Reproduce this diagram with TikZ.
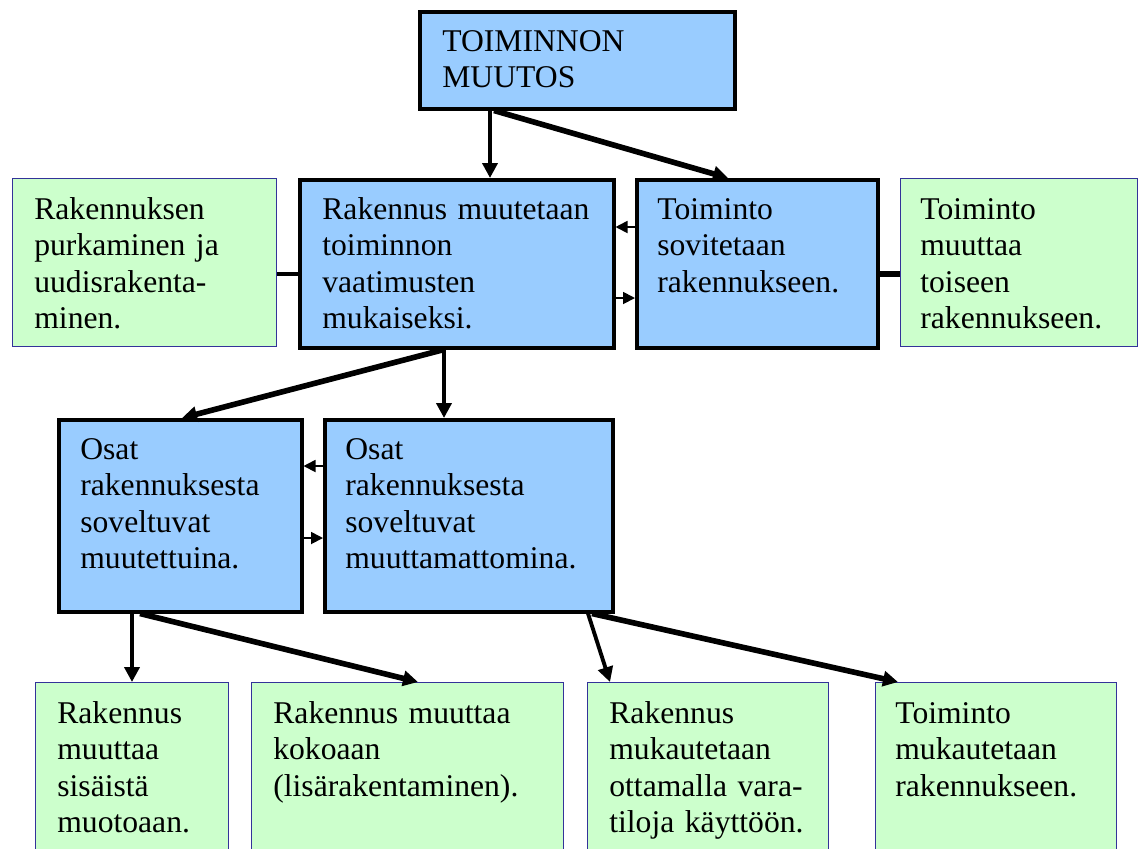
\documentclass[tikz,border=0pt]{standalone}
\usepackage{fontspec}
\setmainfont{Liberation Serif}
\usetikzlibrary{arrows.meta}

\begin{document}
\begin{tikzpicture}[
    >={Triangle[length=3mm,width=3mm]},
    bluebox/.style={draw=black,line width=2pt,fill=boxblue,anchor=north west,inner sep=0pt},
    greenbox/.style={draw=greenline,line width=0.8pt,fill=boxgreen,anchor=north west,inner sep=0pt},
    txt/.style={anchor=base west,inner sep=0pt,align=left,text width=6.2cm,font=\fontsize{18}{20.8}\selectfont},
    arr/.style={->,line width=2.2pt},
    bigarr/.style={->,line width=3.2pt},
    small/.style={-{Triangle[length=2.4mm,width=2.4mm]},line width=1pt},
    link/.style={line width=2.4pt},
]
\definecolor{boxblue}{RGB}{153,204,255}   \definecolor{boxgreen}{RGB}{204,255,204}
\definecolor{greenline}{RGB}{51,51,153}

\useasboundingbox (0,0) rectangle (22.76,-16.96);
\clip (0,0) rectangle (22.76,-16.96);

% text sits 0.44 right of the box edge, first baseline 0.82 below the top
\def\tx{0.44}
\def\ty{-0.82}

% ================= top =================
\node[bluebox,minimum width=6.30cm,minimum height=1.94cm] (muutos) at (8.36,-0.20) {};
\node[txt] (muutos-t) at ([shift={(0.48,\ty)}]muutos.north west) {TOIMINNON\\MUUTOS};

% ================= second row =================
\node[greenbox,minimum width=5.28cm,minimum height=3.36cm] (purku) at (0.24,-3.56) {};
\node[bluebox,minimum width=6.28cm,minimum height=3.36cm] (muutetaan) at (5.96,-3.56) {};
\node[bluebox,minimum width=4.82cm,minimum height=3.36cm] (sovitetaan) at (12.70,-3.56) {};
\node[greenbox,minimum width=4.74cm,minimum height=3.36cm] (toiseen) at (18.00,-3.56) {};
\node[txt] (purku-t) at ([shift={(\tx,\ty)}]purku.north west) {Rakennuksen\\purkaminen ja\\uudisrakenta-\\minen.};
\node[txt] (muutetaan-t) at ([shift={(0.48,\ty)}]muutetaan.north west) {Rakennus muutetaan\\toiminnon\\vaatimusten\\mukaiseksi.};
\node[txt] (sovitetaan-t) at ([shift={(\tx,\ty)}]sovitetaan.north west) {Toiminto\\sovitetaan\\rakennukseen.};
\node[txt] (toiseen-t) at ([shift={(0.40,\ty)}]toiseen.north west) {Toiminto\\muuttaa\\toiseen\\rakennukseen.};

% ================= third row =================
\node[bluebox,minimum width=4.86cm,minimum height=3.84cm] (osatM) at (1.14,-8.36) {};
\node[bluebox,minimum width=5.76cm,minimum height=3.84cm] (osatU) at (6.46,-8.36) {};
\node[txt] (osatM-t) at ([shift={(0.46,\ty)}]osatM.north west) {Osat\\rakennuksesta\\soveltuvat\\muutettuina.};
\node[txt] (osatU-t) at ([shift={(\tx,\ty)}]osatU.north west) {Osat\\rakennuksesta\\soveltuvat\\muuttamattomina.};

% ================= bottom row (runs off the page) =================
\node[greenbox,minimum width=3.86cm,minimum height=3.6cm] (sisainen) at (0.70,-13.64) {};
\node[greenbox,minimum width=6.24cm,minimum height=3.6cm] (koko) at (5.02,-13.64) {};
\node[greenbox,minimum width=4.82cm,minimum height=3.6cm] (varatilat) at (11.74,-13.64) {};
\node[greenbox,minimum width=4.82cm,minimum height=3.6cm] (mukautus) at (17.50,-13.64) {};
\node[txt] (sisainen-t) at ([shift={(\tx,\ty)}]sisainen.north west) {Rakennus\\muuttaa\\sisäistä\\muotoaan.};
\node[txt] (koko-t) at ([shift={(\tx,\ty)}]koko.north west) {Rakennus muuttaa\\kokoaan\\(lisärakentaminen).};
\node[txt] (varatilat-t) at ([shift={(\tx,\ty)}]varatilat.north west) {Rakennus\\mukautetaan\\ottamalla vara-\\tiloja käyttöön.};
\node[txt] (mukautus-t) at ([shift={(0.40,\ty)}]mukautus.north west) {Toiminto\\mukautetaan\\rakennukseen.};

% ================= connectors =================
\draw[arr] ([xshift=1.44cm]muutos.south west) -- ([xshift=1.44cm]muutos.south west |- muutetaan.north);
\draw[bigarr] ([xshift=1.52cm]muutos.south west) -- ([xshift=1.86cm]sovitetaan.north west);
\draw[link] ([yshift=-1.92cm]purku.north east) -- ([yshift=-1.92cm]muutetaan.north west);
\draw[link,line width=3.2pt] ([yshift=-1.92cm]sovitetaan.north east) -- ([yshift=-1.92cm]toiseen.north west);
\draw[small] ([yshift=-0.98cm]sovitetaan.north west) -- ([yshift=-0.98cm]muutetaan.north east);
\draw[small] ([yshift=-2.40cm]muutetaan.north east) -- ([yshift=-2.40cm]sovitetaan.north west);

\draw[arr] ([xshift=2.92cm]muutetaan.south west) -- ([xshift=2.92cm]muutetaan.south west |- osatU.north);
\draw[bigarr] ([xshift=2.92cm]muutetaan.south west) -- ([xshift=2.50cm]osatM.north west);
\draw[small] ([yshift=-0.96cm]osatU.north west) -- ([yshift=-0.96cm]osatM.north east);
\draw[small] ([yshift=-2.40cm]osatM.north east) -- ([yshift=-2.40cm]osatU.north west);

\draw[arr] ([xshift=1.50cm]osatM.south west) -- ([xshift=1.50cm]osatM.south west |- sisainen.north);
\draw[bigarr] ([xshift=1.66cm]osatM.south west) -- ([xshift=3.34cm]koko.north west);
\draw[arr] ([xshift=5.30cm]osatU.south west) -- ([xshift=0.46cm]varatilat.north west);
\draw[bigarr] ([xshift=5.38cm]osatU.south west) -- ([xshift=0.46cm]mukautus.north west);

\end{tikzpicture}
\end{document}
